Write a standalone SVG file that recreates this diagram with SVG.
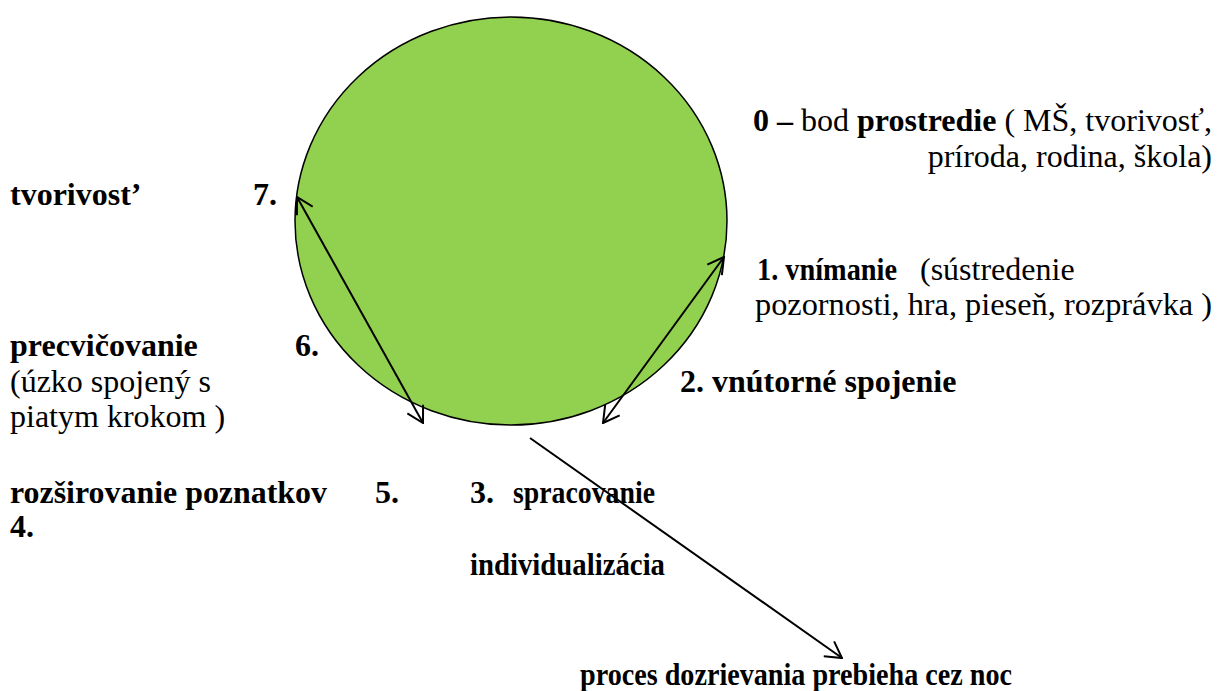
<svg xmlns="http://www.w3.org/2000/svg" width="1218" height="691" viewBox="0 0 1218 691">
<style>
  text { font-family: "Liberation Serif", "DejaVu Serif", serif; font-size: 32px; fill: #000; }
  .b { font-weight: bold; }
  .conn { stroke: #000; stroke-width: 2; fill: none; }
</style>
<defs>
  <marker id="open" viewBox="0 0 18 20" refX="17" refY="10" markerWidth="18" markerHeight="20" markerUnits="userSpaceOnUse" orient="auto-start-reverse">
    <path d="M1,1 L17,10 L1,19" fill="none" stroke="#000" stroke-width="2"/>
  </marker>
</defs>
<rect width="1218" height="691" fill="#fff"/>
<g id="circle">
  <ellipse cx="511" cy="221" rx="216" ry="204" fill="#92D050" stroke="#000" stroke-width="1.5"/>
</g>
<g id="connectors">
  <line class="conn" x1="297" y1="197" x2="423" y2="423" marker-start="url(#open)" marker-end="url(#open)"/>
  <line class="conn" x1="724" y1="257" x2="603" y2="423" marker-start="url(#open)" marker-end="url(#open)"/>
  <line class="conn" x1="530" y1="438" x2="842" y2="658" marker-end="url(#open)"/>
</g>
<g id="step0">
  <text x="753" y="131" textLength="459" lengthAdjust="spacingAndGlyphs"><tspan class="b">0 –</tspan> bod <tspan class="b">prostredie</tspan> ( MŠ, tvorivosť,</text>
  <text x="1212" y="167" text-anchor="end">príroda, rodina, škola)</text>
</g>
<g id="step7">
  <text class="b" x="10" y="205">tvorivost’</text>
  <text class="b" x="253" y="205">7.</text>
</g>
<g id="step1">
  <text class="b" x="757" y="280" textLength="140" lengthAdjust="spacingAndGlyphs">1. vnímanie</text>
  <text x="920" y="280">(sústredenie</text>
  <text x="755" y="315" textLength="457" lengthAdjust="spacingAndGlyphs">pozornosti, hra, pieseň, rozprávka )</text>
</g>
<g id="step6">
  <text class="b" x="10" y="356">precvičovanie</text>
  <text class="b" x="295" y="356">6.</text>
  <text x="10" y="392">(úzko spojený s</text>
  <text x="10" y="427">piatym krokom )</text>
</g>
<g id="step2">
  <text class="b" x="680" y="392">2. vnútorné spojenie</text>
</g>
<g id="step5">
  <text class="b" x="10" y="503" textLength="317" lengthAdjust="spacingAndGlyphs">rozširovanie poznatkov</text>
  <text class="b" x="375" y="503">5.</text>
  <text class="b" x="10" y="537">4.</text>
</g>
<g id="step3">
  <text class="b" x="470" y="503">3.</text>
  <text class="b" x="513" y="503" textLength="142" lengthAdjust="spacingAndGlyphs">spracovanie</text>
  <text class="b" x="470" y="575" textLength="195" lengthAdjust="spacingAndGlyphs">individualizácia</text>
</g>
<g id="night">
  <text class="b" x="580" y="685" textLength="432" lengthAdjust="spacingAndGlyphs">proces dozrievania prebieha cez noc</text>
</g>
</svg>
